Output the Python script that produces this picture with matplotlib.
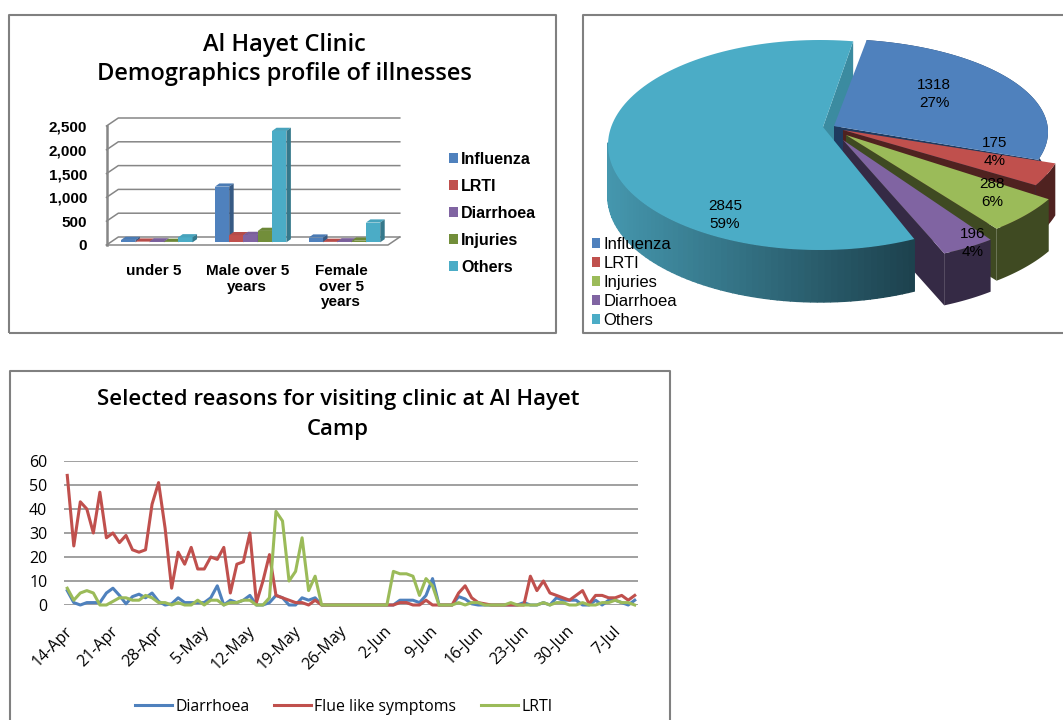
import numpy as np
import matplotlib
matplotlib.use('Agg')
import matplotlib.pyplot as plt
from matplotlib.patches import Polygon, Rectangle
from matplotlib.colors import to_rgb
from matplotlib.transforms import ScaledTranslation

W, H = 1063, 720

# bar chart data
categories = ["under 5", "Male over 5\nyears", "Female\nover 5\nyears"]
influenza = [50, 1170, 100]
lrti = [15, 150, 10]
diarrhoea = [20, 155, 20]
injuries = [10, 240, 35]
others = [105, 2340, 415]

# pie data
pie_names = ["Influenza", "LRTI", "Injuries", "Diarrhoea", "Others"]
pie_values = [1318, 175, 288, 196, 2845]

# line chart data, one value per day from 14-Apr
date_labels = ["14-Apr", "21-Apr", "28-Apr", "5-May", "12-May", "19-May", "26-May",
               "2-Jun", "9-Jun", "16-Jun", "23-Jun", "30-Jun", "7-Jul"]
line_diarrhoea = [6, 1, 0, 1, 1, 1, 5, 7, 4, 0.5, 3.5, 4.5, 3, 5, 1.5, 0, 0.5, 3, 1, 1,
                  1, 1, 3, 8, 0, 2, 1, 2, 4, 0, 0, 1, 4, 3, 0, 0, 3, 2, 3, 0,
                  0, 0, 0, 0, 0, 0, 0, 0, 0, 0, 0, 2, 2, 2, 1, 4, 11, 0, 0, 0,
                  3.5, 2.5, 0.5, 0, 0, 0, 0, 0, 0, 0, 1, 0, 0, 1, 0, 3, 2, 2, 2, 0,
                  0, 2, 0, 2, 2, 1, 0, 2]
line_flu = [54, 24.6, 43, 40, 30, 47, 28, 30, 26, 29, 23, 22, 23, 42, 51, 32, 7, 22, 17, 24,
            15, 15, 20, 19, 24, 5, 17, 18, 30, 1, 10, 21, 4, 3, 2, 1, 1, 0, 2, 0,
            0, 0, 0, 0, 0, 0, 0, 0, 0, 0, 0, 1, 1, 0, 0, 2, 0, 0, 0, 0,
            5, 8, 3, 1, 0.5, 0, 0, 0, 0, 0, 0, 12, 6, 10, 5, 4, 3, 2, 4, 6,
            0.5, 4, 4, 3, 3, 4, 2, 4]
line_lrti = [7, 2, 5, 6, 5, 0, 0, 1.5, 3, 3, 2, 2, 4, 3, 1, 1, 0, 1, 0, 0,
             2, 0, 2, 2, 0, 1, 1, 2, 2, 0, 0, 3, 39, 35, 10, 14, 28, 6, 12, 0,
             0, 0, 0, 0, 0, 0, 0, 0, 0, 0, 14, 13, 13, 12, 4, 11, 8, 0, 0, 0,
             1, 0, 1, 1, 0, 0, 0, 0, 1, 0, 0, 0, 0, 1, 0, 1, 1, 0, 0, 1,
             0, 0, 1, 1, 2, 1, 1, 0]

blue, red, purple, olive, teal, green = '#4F81BD', '#C0504D', '#8064A2', '#728E3A', '#4BACC6', '#9BBB59'
grid_gray = '#868686'
title_font = 'Open Sans'
bold_font = 'Liberation Sans'


def axes_px(fig, x0, y0, x1, y1):
    return fig.add_axes([x0 / W, 1 - y1 / H, (x1 - x0) / W, (y1 - y0) / H])


def shade(color, f):
    return tuple(c * f for c in to_rgb(color))


fig = plt.figure(figsize=(W / 100, H / 100), dpi=100, facecolor='white')

# background layer in pixel coordinates: panel frames and the pie
bg = fig.add_axes([0, 0, 1, 1])
bg.set_xlim(0, W)
bg.set_ylim(H, 0)
bg.axis('off')
frame = dict(color='#808080', lw=1.5, solid_capstyle='butt')
bg.plot([9, 9, 556, 556, 9], [333, 15, 15, 333, 333], **frame)
bg.plot([1063, 583, 583, 1063], [15, 15, 333, 333], **frame)
bg.plot([9.5, 9.5, 670, 670], [720, 371, 371, 720], **frame)

# ---------- bar chart ----------
ax = axes_px(fig, 106.5, 126, 388, 245)
ax.set_xlim(-0.5, 2.5)
ax.set_ylim(0, 2500)
ax.patch.set_alpha(0)
for s in ax.spines.values():
    s.set_visible(False)

cat_px = 93.83
wall_dx = 11.8 / cat_px
wall_dy = 8 / 119 * 2500
for v in range(0, 2501, 500):
    ax.plot([-0.5, -0.5 + wall_dx, 2.5 + wall_dx], [v, v + wall_dy, v + wall_dy],
            color=grid_gray, lw=1.1, clip_on=False, zorder=1)
ax.plot([-0.5, -0.5], [0, 2500], color=grid_gray, lw=1.8, clip_on=False, zorder=1)
ax.plot([-0.5, 2.5, 2.5 + wall_dx], [0, 0, wall_dy], color=grid_gray, lw=1.1, clip_on=False, zorder=1)

series = [("Influenza", influenza, blue), ("LRTI", lrti, red), ("Diarrhoea", diarrhoea, purple),
          ("Injuries", injuries, olive), ("Others", others, teal)]
bar_w = 14.3 / cat_px
bar_dx = 4.5 / cat_px
bar_dy = 3.2 / 119 * 2500
base = 56
handles = []
for j, (name, vals, col) in enumerate(series):
    xs = np.arange(3) - 2.5 * bar_w + 0.036 + j * bar_w
    b = ax.bar(xs, vals, width=bar_w, bottom=base, align='edge', color=col, label=name,
               clip_on=False, zorder=2 + j)
    handles.append(b)
    for x, v in zip(xs, vals):
        top = base + v
        ax.add_patch(Polygon([(x, top), (x + bar_dx, top + bar_dy), (x + bar_w + bar_dx, top + bar_dy), (x + bar_w, top)],
                             fc=shade(col, 0.95), ec='none', clip_on=False, zorder=2 + j))
        ax.add_patch(Polygon([(x + bar_w, base), (x + bar_w + bar_dx, base + bar_dy), (x + bar_w + bar_dx, top + bar_dy), (x + bar_w, top)],
                             fc=shade(col, 0.7), ec='none', clip_on=False, zorder=2 + j))

ax.set_yticks(range(0, 2501, 500))
ax.set_yticklabels([f"{v:,}" for v in range(0, 2501, 500)], fontfamily=bold_font, fontweight='bold', fontsize=11)
ax.set_xticks(range(3))
ax.set_xticklabels(categories, fontfamily=bold_font, fontweight='bold', fontsize=11, linespacing=1.1)
ax.tick_params(axis='both', length=0)
ax.tick_params(axis='y', pad=14)
ax.tick_params(axis='x', pad=14)
ax.legend(handles=handles, loc='upper left', bbox_to_anchor=(342.5 / 281.5, 0.785), frameon=False,
          handlelength=0.56, handleheight=0.56, handletextpad=0.2, labelspacing=0.75, borderpad=0, borderaxespad=0,
          prop=dict(family=bold_font, weight='bold', size=11.5))
bg.text(284, 45, "Al Hayet Clinic", ha='center', va='center', fontfamily=title_font, fontweight='semibold', fontsize=17)
bg.text(284, 74, "Demographics profile of illnesses", ha='center', va='center', fontfamily=title_font, fontweight='semibold', fontsize=17)

# ---------- pie chart, extruded by hand ----------
total = sum(pie_values)
pie_colors = [blue, red, green, purple, teal]
side_colors = ['#1f3a5f', '#4f2220', '#3f4a22', '#352a45', '#2f7284']
# slice geometry: ellipse centre, radii and apex for each exploded slice
pie_geom = [(833, 132, 215, 93, 834, 126),
            (853, 132, 212, 105, 843, 130),
            (866, 146, 212, 105, 846, 135),
            (860, 157, 212, 105, 843, 140),
            (820, 145, 212, 105, 823, 127)]
depth = 52
start = 81.0
angles = [start]
for v in pie_values:
    angles.append(angles[-1] - v / total * 360)
angle_nudge = [0, 0, 0, 0, 3]  # perspective makes the big slice open a bit wider


def arc(g, a0, a1, n=120):
    t = np.radians(np.linspace(a0, a1, n))
    return g[0] + g[2] * np.cos(t), g[1] - g[3] * np.sin(t)


# cut face of the big slice, sits behind the influenza slice
ox, oy = arc(pie_geom[4], angles[5], angles[5], 1)
bg.add_patch(Polygon([(ox[0], oy[0]), pie_geom[4][4:], (pie_geom[4][4], pie_geom[4][5] + depth), (ox[0], oy[0] + depth)],
                     fc='#3B8BA0', ec='none', zorder=2))
for i in range(5):
    g = pie_geom[i]
    col = pie_colors[i]
    x, y = arc(g, angles[i] + angle_nudge[i], angles[i + 1])
    z = 3 + i
    # outer wall
    if i == 4:
        # big slice wall goes dark towards the right
        for k in range(len(x) - 1):
            if y[k] + y[k + 1] < 2 * g[1] - 4:
                continue
            f = np.clip((x[k] - 608) / (914 - 608), 0, 1)
            c = (1 - f) * np.array(to_rgb('#4597AE')) + f * np.array(to_rgb('#1D424E'))
            bg.add_patch(Polygon([(x[k], y[k]), (x[k + 1], y[k + 1]), (x[k + 1], y[k + 1] + depth), (x[k], y[k] + depth)],
                                 fc=c, ec=c, lw=1, zorder=z))
    else:
        wall = list(zip(x, y)) + list(zip(x[::-1], y[::-1] + depth))
        bg.add_patch(Polygon(wall, fc=side_colors[i], ec='none', zorder=z))
        # radial cut face at the clockwise end
        bg.add_patch(Polygon([(x[-1], y[-1]), (g[4], g[5]), (g[4], g[5] + depth), (x[-1], y[-1] + depth)],
                             fc=side_colors[i], ec='none', zorder=z))
    bg.add_patch(Polygon([(g[4], g[5])] + list(zip(x, y)), fc=col, ec='none', zorder=z))

label_pos = [(934, 94), (995, 152), (992, 193), (973, 243), (725, 215)]
for v, (lx, ly) in zip(pie_values, label_pos):
    bg.text(lx, ly, f"{v}\n{round(v / total * 100)}%", ha='center', va='center', fontfamily=bold_font,
            fontsize=11, linespacing=1.45, zorder=20)
pie_handles = [Rectangle((0, 0), 1, 1, fc=c, ec='none') for c in pie_colors]
pie_leg = bg.legend(pie_handles, pie_names, loc='upper left', bbox_to_anchor=(592 / W, 1 - 237 / H), frameon=False,
                    handlelength=0.5, handleheight=0.5, handletextpad=0.17, labelspacing=0.24, borderpad=0, borderaxespad=0,
                    prop=dict(family=bold_font, size=12))
pie_leg.set_zorder(20)

# ---------- line chart ----------
ax3 = axes_px(fig, 64, 461, 638, 605)
ax3.patch.set_alpha(0)
days = np.arange(len(line_flu))
ax3.set_xlim(-0.5, len(days) - 0.5)
ax3.set_ylim(0, 60)
ax3.yaxis.grid(True, color=grid_gray, lw=1.1)
ax3.set_axisbelow(True)
for s in ax3.spines.values():
    s.set_visible(False)
ax3.plot(days, line_diarrhoea, color=blue, lw=2.2, label="Diarrhoea", clip_on=False)
ax3.plot(days, line_flu, color=red, lw=2.2, label="Flue like symptoms", clip_on=False)
ax3.plot(days, line_lrti, color=green, lw=2.2, label="LRTI", clip_on=False)
ax3.set_yticks(range(0, 61, 10))
ax3.set_xticks(days[::7])
ax3.set_xticklabels(date_labels, rotation=45, ha='right', rotation_mode='anchor', fontfamily=title_font, fontsize=11.5)
ax3.tick_params(axis='both', length=0)
ax3.tick_params(axis='y', pad=12, labelsize=11.5)
ax3.tick_params(axis='x', pad=13)
for lab in ax3.get_yticklabels():
    lab.set_fontfamily(title_font)
shift = ScaledTranslation(-3 / 100, 0, fig.dpi_scale_trans)
for lab in ax3.get_xticklabels():
    lab.set_transform(lab.get_transform() + shift)
ax3.legend(loc='center left', bbox_to_anchor=(71 / 574, -102 / 144), ncol=3, frameon=False, handlelength=2.33,
           handletextpad=0.2, columnspacing=1.57, borderpad=0, borderaxespad=0, prop=dict(family=title_font, size=11.4))
bg.text(338, 400, "Selected reasons for visiting clinic at Al Hayet", ha='center', va='center',
        fontfamily=title_font, fontweight='semibold', fontsize=15.9)
bg.text(338, 429, "Camp", ha='center', va='center', fontfamily=title_font, fontweight='semibold', fontsize=15.9)

fig.savefig('out.png', dpi=100)
